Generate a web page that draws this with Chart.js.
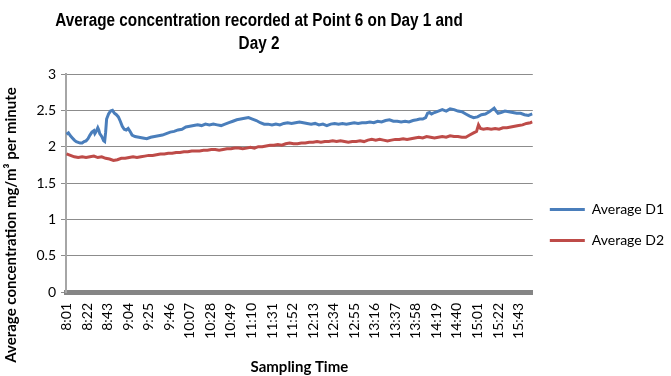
<!DOCTYPE html>
<html>
<head>
<meta charset="utf-8">
<script src="https://cdn.jsdelivr.net/npm/chart.js@4.4.0/dist/chart.umd.min.js"></script>
<style>
  html, body { margin: 0; padding: 0; background: #fff; }
  #wrap { width: 671px; height: 376px; }
</style>
</head>
<body>
<div id="wrap"><canvas id="chart" width="671" height="376"></canvas></div>
<script>
const titleLines = ['Average concentration recorded at Point 6 on Day 1 and', 'Day 2'];
const yTitle = 'Average concentration mg/m\u00B3 per minute';
const xTitle = 'Sampling Time';
const seriesNames = ['Average D1', 'Average D2'];

const tickLabels = ['8:01', '8:22', '8:43', '9:04', '9:25', '9:46', '10:07', '10:28', '10:49', '11:10', '11:31', '11:52',
  '12:13', '12:34', '12:55', '13:16', '13:37', '13:58', '14:19', '14:40', '15:01', '15:22', '15:43'];
const firstTime = '8:01';
const lastTime = '15:57';

// Day 1 readings
const d1Times = ['8:01', '8:03', '8:05', '8:07', '8:09', '8:11', '8:13', '8:15', '8:17', '8:19', '8:21', '8:23', '8:25', '8:27', '8:29', '8:30',
  '8:31', '8:33', '8:34', '8:35', '8:37', '8:39', '8:40', '8:41', '8:42', '8:44', '8:46', '8:48', '8:50', '8:52', '8:54', '8:56', '8:58',
  '9:00', '9:02', '9:04', '9:06', '9:08', '9:11', '9:15', '9:19', '9:23', '9:27', '9:31', '9:35', '9:39', '9:43', '9:47', '9:51', '9:55', '9:59',
  '10:03', '10:07', '10:11', '10:15', '10:19', '10:23', '10:27', '10:31', '10:35', '10:39', '10:43', '10:47', '10:51', '10:55', '10:59',
  '11:03', '11:07', '11:11', '11:15', '11:19', '11:23', '11:27', '11:31', '11:35', '11:39', '11:43', '11:47', '11:51', '11:55', '11:59',
  '12:03', '12:07', '12:11', '12:15', '12:19', '12:23', '12:27', '12:31', '12:35', '12:39', '12:43', '12:47', '12:51', '12:55', '12:59',
  '13:03', '13:07', '13:11', '13:15', '13:19', '13:23', '13:27', '13:31', '13:35', '13:39', '13:43', '13:47', '13:51', '13:55', '13:59',
  '14:02', '14:05', '14:08', '14:10', '14:12', '14:14', '14:17', '14:21', '14:25', '14:29', '14:33', '14:37', '14:41', '14:45', '14:49', '14:53', '14:57',
  '15:01', '15:05', '15:09', '15:13', '15:16', '15:18', '15:20', '15:22', '15:25', '15:29', '15:33', '15:37', '15:41', '15:45', '15:49', '15:53', '15:57'];
const d1Values = [2.17, 2.19, 2.15, 2.12, 2.09, 2.07, 2.06, 2.05, 2.05, 2.07, 2.08, 2.11, 2.16, 2.20, 2.22, 2.18,
  2.20, 2.26, 2.23, 2.18, 2.14, 2.08, 2.07, 2.20, 2.38, 2.45, 2.49, 2.50, 2.46, 2.44, 2.41, 2.35, 2.28,
  2.24, 2.23, 2.25, 2.21, 2.16, 2.14, 2.13, 2.12, 2.11, 2.13, 2.14, 2.15, 2.16, 2.18, 2.20, 2.21, 2.23, 2.24,
  2.27, 2.28, 2.29, 2.30, 2.29, 2.31, 2.30, 2.31, 2.30, 2.29, 2.31, 2.33, 2.35, 2.37, 2.38,
  2.39, 2.40, 2.38, 2.36, 2.33, 2.31, 2.31, 2.30, 2.31, 2.30, 2.32, 2.33, 2.32, 2.33, 2.34,
  2.33, 2.32, 2.31, 2.32, 2.30, 2.31, 2.29, 2.31, 2.32, 2.31, 2.32, 2.31, 2.32, 2.33, 2.32,
  2.33, 2.33, 2.34, 2.33, 2.35, 2.34, 2.36, 2.37, 2.35, 2.35, 2.34, 2.35, 2.34, 2.36, 2.37,
  2.38, 2.38, 2.40, 2.46, 2.47, 2.45, 2.47, 2.49, 2.51, 2.49, 2.52, 2.51, 2.49, 2.48, 2.45, 2.42, 2.40,
  2.41, 2.44, 2.45, 2.48, 2.51, 2.53, 2.49, 2.46, 2.47, 2.49, 2.48, 2.47, 2.46, 2.46, 2.44, 2.43, 2.45];

// Day 2 readings
const d2Times = ['8:01', '8:05', '8:09', '8:13', '8:17', '8:21', '8:25', '8:29', '8:33', '8:37', '8:41', '8:45', '8:49', '8:53', '8:57',
  '9:01', '9:05', '9:09', '9:13', '9:17', '9:21', '9:25', '9:29', '9:33', '9:37', '9:41', '9:45', '9:49', '9:53', '9:57',
  '10:01', '10:05', '10:09', '10:13', '10:17', '10:21', '10:25', '10:29', '10:33', '10:37', '10:41', '10:45', '10:49', '10:53', '10:57',
  '11:01', '11:05', '11:09', '11:13', '11:17', '11:21', '11:25', '11:29', '11:33', '11:37', '11:41', '11:45', '11:49', '11:53', '11:57',
  '12:01', '12:05', '12:09', '12:13', '12:17', '12:21', '12:25', '12:29', '12:33', '12:37', '12:41', '12:45', '12:49', '12:53', '12:57',
  '13:01', '13:05', '13:09', '13:13', '13:17', '13:21', '13:25', '13:29', '13:33', '13:37', '13:41', '13:45', '13:49', '13:53', '13:57',
  '14:01', '14:05', '14:09', '14:13', '14:17', '14:21', '14:25', '14:29', '14:33', '14:37', '14:41', '14:45', '14:49', '14:53', '14:57',
  '15:00', '15:02', '15:04', '15:07', '15:11', '15:15', '15:19', '15:23', '15:27', '15:31', '15:35', '15:39', '15:43', '15:47', '15:51', '15:55', '15:57'];
const d2Values = [1.90, 1.88, 1.86, 1.85, 1.86, 1.85, 1.86, 1.87, 1.85, 1.86, 1.84, 1.83, 1.81, 1.82, 1.84,
  1.84, 1.85, 1.86, 1.85, 1.86, 1.87, 1.88, 1.88, 1.89, 1.90, 1.90, 1.91, 1.91, 1.92, 1.92,
  1.93, 1.93, 1.94, 1.94, 1.94, 1.95, 1.95, 1.96, 1.96, 1.95, 1.96, 1.97, 1.97, 1.98, 1.98,
  1.97, 1.98, 1.99, 1.98, 2.00, 2.00, 2.01, 2.02, 2.02, 2.03, 2.02, 2.04, 2.05, 2.04, 2.04,
  2.05, 2.05, 2.06, 2.06, 2.07, 2.06, 2.07, 2.07, 2.08, 2.07, 2.08, 2.07, 2.06, 2.07, 2.07,
  2.08, 2.07, 2.09, 2.10, 2.09, 2.10, 2.09, 2.08, 2.09, 2.10, 2.10, 2.11, 2.10, 2.11, 2.12,
  2.13, 2.12, 2.14, 2.13, 2.12, 2.13, 2.14, 2.13, 2.15, 2.14, 2.14, 2.13, 2.13, 2.16, 2.19,
  2.21, 2.30, 2.25, 2.24, 2.25, 2.24, 2.25, 2.24, 2.26, 2.26, 2.27, 2.28, 2.29, 2.30, 2.32, 2.33, 2.34];

function toMinutes(t) {
    const parts = t.split(':').map(Number);
    return parts[0] * 60 + parts[1];
}

function toPoints(times, values) {
    return times.map((t, i) => ({ x: toMinutes(t), y: values[i] }));
}

// title and y-axis title sit off-centre in the original, so they are drawn here
const extraText = {
    id: 'extraText',
    afterDraw(chart) {
        const ctx = chart.ctx;
        ctx.save();
        ctx.fillStyle = '#000';
        ctx.textAlign = 'center';
        ctx.textBaseline = 'middle';
        ctx.font = 'bold 18px "Liberation Sans", Arial, sans-serif';
        titleLines.forEach((line, i) => {
            ctx.save();
            ctx.translate(259, 21 + i * 23);
            ctx.scale(0.85, 1); // narrow face like the original
            ctx.fillText(line, 0, 0);
            ctx.restore();
        });
        ctx.translate(11, 225);
        ctx.rotate(-Math.PI / 2);
        ctx.font = 'bold 15px Lato, sans-serif';
        ctx.fillText(yTitle, 0, 0);
        ctx.restore();
    }
};

const ctx = document.getElementById('chart').getContext('2d');
const chart = new Chart(ctx, {
    type: 'line',
    data: {
        datasets: [{
            label: seriesNames[0],
            data: toPoints(d1Times, d1Values),
            borderColor: '#4A7EBB',
            backgroundColor: '#4A7EBB',
            borderWidth: 3,
            pointRadius: 0,
            tension: 0
        }, {
            label: seriesNames[1],
            data: toPoints(d2Times, d2Values),
            borderColor: '#BE4B48',
            backgroundColor: '#BE4B48',
            borderWidth: 3,
            pointRadius: 0,
            tension: 0
        }]
    },
    options: {
        responsive: false,
        animation: false,
        layout: { padding: { top: 74, left: 20, right: -3, bottom: 0 } },
        plugins: {
            title: { display: false },
            tooltip: { enabled: false },
            legend: {
                position: 'right',
                labels: {
                    boxWidth: 35,
                    boxHeight: 3,
                    padding: 17,
                    color: '#000',
                    font: { family: 'Lato', size: 14 },
                    generateLabels(chart) {
                        return chart.data.datasets.map((ds, i) => ({
                            text: ds.label,
                            fillStyle: ds.borderColor,
                            strokeStyle: ds.borderColor,
                            lineWidth: 0,
                            hidden: false,
                            datasetIndex: i
                        }));
                    }
                }
            }
        },
        scales: {
            x: {
                type: 'linear',
                min: toMinutes(firstTime) - 0.5,
                max: toMinutes(lastTime) + 0.5,
                afterBuildTicks(scale) {
                    scale.ticks = tickLabels.map(t => ({ value: toMinutes(t) }));
                },
                afterFit(scale) { scale.height = 84; },
                ticks: {
                    autoSkip: false,
                    minRotation: 90,
                    maxRotation: 90,
                    padding: 11,
                    color: '#000',
                    font: { family: 'Lato', size: 14 },
                    callback: (value, index) => tickLabels[index]
                },
                grid: { display: false, drawTicks: false },
                border: { display: true, color: '#858585', width: 5 },
                title: {
                    display: true,
                    text: xTitle,
                    color: '#000',
                    font: { family: 'Lato', size: 15, weight: 'bold' },
                    padding: { top: 0, bottom: 0 }
                }
            },
            y: {
                min: 0,
                max: 3,
                afterFit(scale) { scale.width = 46; },
                ticks: {
                    stepSize: 0.5,
                    padding: 5,
                    color: '#000',
                    font: { family: 'Lato', size: 14 },
                    callback: value => value.toString()
                },
                grid: { color: '#8C8C8C', lineWidth: 1, tickLength: 5 },
                border: { color: '#A6A6A6', width: 2 }
            }
        }
    },
    plugins: [extraText]
});
</script>
</body>
</html>
